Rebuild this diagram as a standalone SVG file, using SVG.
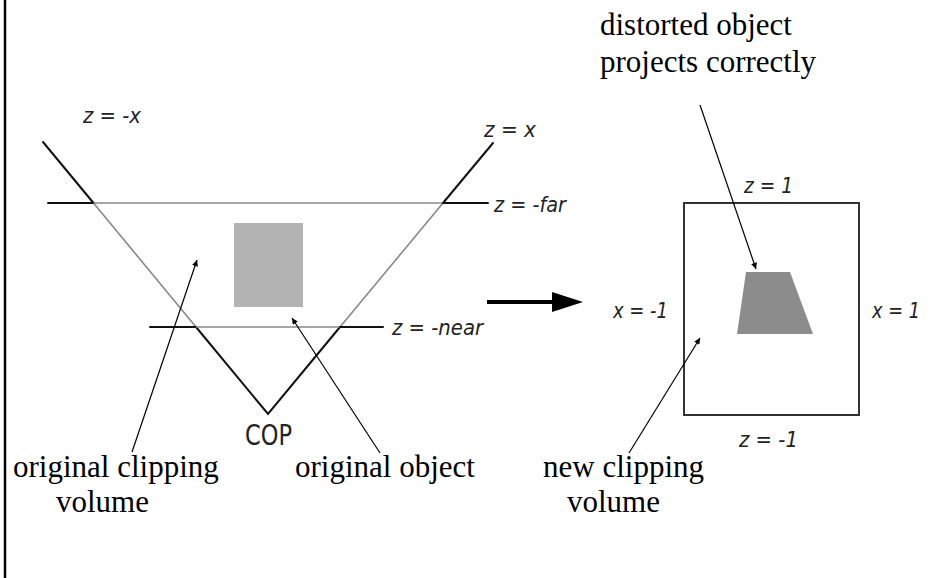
<svg xmlns="http://www.w3.org/2000/svg" width="948" height="578" viewBox="0 0 948 578">
  <style>
    .blk { stroke: #111; stroke-width: 2; fill: none; stroke-linecap: round; }
    .gry { stroke: #888; stroke-width: 1.6; fill: none; }
    .thin { stroke: #000; stroke-width: 1.2; fill: none; marker-end: url(#ah); }
    .math { font-family: "DejaVu Sans", "Liberation Sans", sans-serif; font-style: italic; font-size: 21px; fill: #222; }
    .sans { font-family: "DejaVu Sans", "Liberation Sans", sans-serif; font-size: 29px; fill: #222; }
    .ser { font-family: "Liberation Serif", "Times New Roman", serif; font-size: 31px; fill: #000; }
  </style>
  <defs>
    <marker id="ah" viewBox="0 0 10 10" refX="10" refY="5" markerWidth="9" markerHeight="6" markerUnits="userSpaceOnUse" orient="auto">
      <path d="M0,0 L10,5 L0,10 z" fill="#000"/>
    </marker>
  </defs>
  <rect width="948" height="578" fill="#fff"/>
  <line x1="5" y1="0" x2="5" y2="578" stroke="#000" stroke-width="2.5"/>

  <g id="frustum">
    <line class="blk" x1="43" y1="142" x2="93.5" y2="203"/>
    <line class="gry" x1="93.5" y1="203" x2="196" y2="327"/>
    <polyline class="blk" points="196,327 268,414 340,327"/>
    <line class="gry" x1="340" y1="327" x2="443" y2="203"/>
    <line class="blk" x1="443" y1="203" x2="493" y2="143"/>
    <line class="blk" x1="48" y1="203" x2="93.5" y2="203"/>
    <line class="gry" x1="93.5" y1="203" x2="443" y2="203"/>
    <line class="blk" x1="443" y1="203" x2="488" y2="203"/>
    <line class="blk" x1="150" y1="327" x2="196" y2="327"/>
    <line class="gry" x1="196" y1="327" x2="340" y2="327"/>
    <line class="blk" x1="340" y1="327" x2="383" y2="327"/>
    <text class="math" x="83" y="123" textLength="58" lengthAdjust="spacingAndGlyphs">z = -x</text>
    <text class="math" x="484" y="137" textLength="52" lengthAdjust="spacingAndGlyphs">z = x</text>
    <text class="math" x="494" y="212" textLength="72" lengthAdjust="spacingAndGlyphs">z = -far</text>
    <text class="math" x="392" y="335" textLength="91" lengthAdjust="spacingAndGlyphs">z = -near</text>
    <text class="sans" x="245" y="445" textLength="47" lengthAdjust="spacingAndGlyphs">COP</text>
  </g>

  <g id="original-object">
    <rect x="234" y="223" width="69" height="84" fill="#b3b3b3"/>
  </g>

  <g id="transform-arrow">
    <line x1="487" y1="302" x2="553" y2="302" stroke="#000" stroke-width="4"/>
    <polygon points="552,292 583,302 552,312" fill="#000"/>
  </g>

  <g id="new-volume">
    <rect x="684" y="203" width="175" height="212" fill="none" stroke="#333" stroke-width="2"/>
    <text class="math" x="744" y="193" textLength="49" lengthAdjust="spacingAndGlyphs">z = 1</text>
    <text class="math" x="739" y="447" textLength="59" lengthAdjust="spacingAndGlyphs">z = -1</text>
    <text class="math" x="613" y="318" textLength="55" lengthAdjust="spacingAndGlyphs">x = -1</text>
    <text class="math" x="872" y="318" textLength="48" lengthAdjust="spacingAndGlyphs">x = 1</text>
  </g>

  <g id="distorted-object">
    <polygon points="746,272 790,272 813,334 737,334" fill="#8c8c8c"/>
  </g>

  <g id="connectors">
    <line class="thin" x1="132" y1="452" x2="197" y2="260"/>
    <line class="thin" x1="380" y1="453" x2="292" y2="318"/>
    <line class="thin" x1="629" y1="453" x2="700" y2="338"/>
    <line class="thin" x1="700" y1="105" x2="756" y2="269"/>
  </g>

  <g id="labels">
    <text class="ser" x="600" y="35">distorted object</text>
    <text class="ser" x="600" y="72">projects correctly</text>
    <text class="ser" x="13" y="477">original clipping</text>
    <text class="ser" x="56" y="512">volume</text>
    <text class="ser" x="295" y="477">original object</text>
    <text class="ser" x="543" y="477">new clipping</text>
    <text class="ser" x="567" y="512">volume</text>
  </g>
</svg>
